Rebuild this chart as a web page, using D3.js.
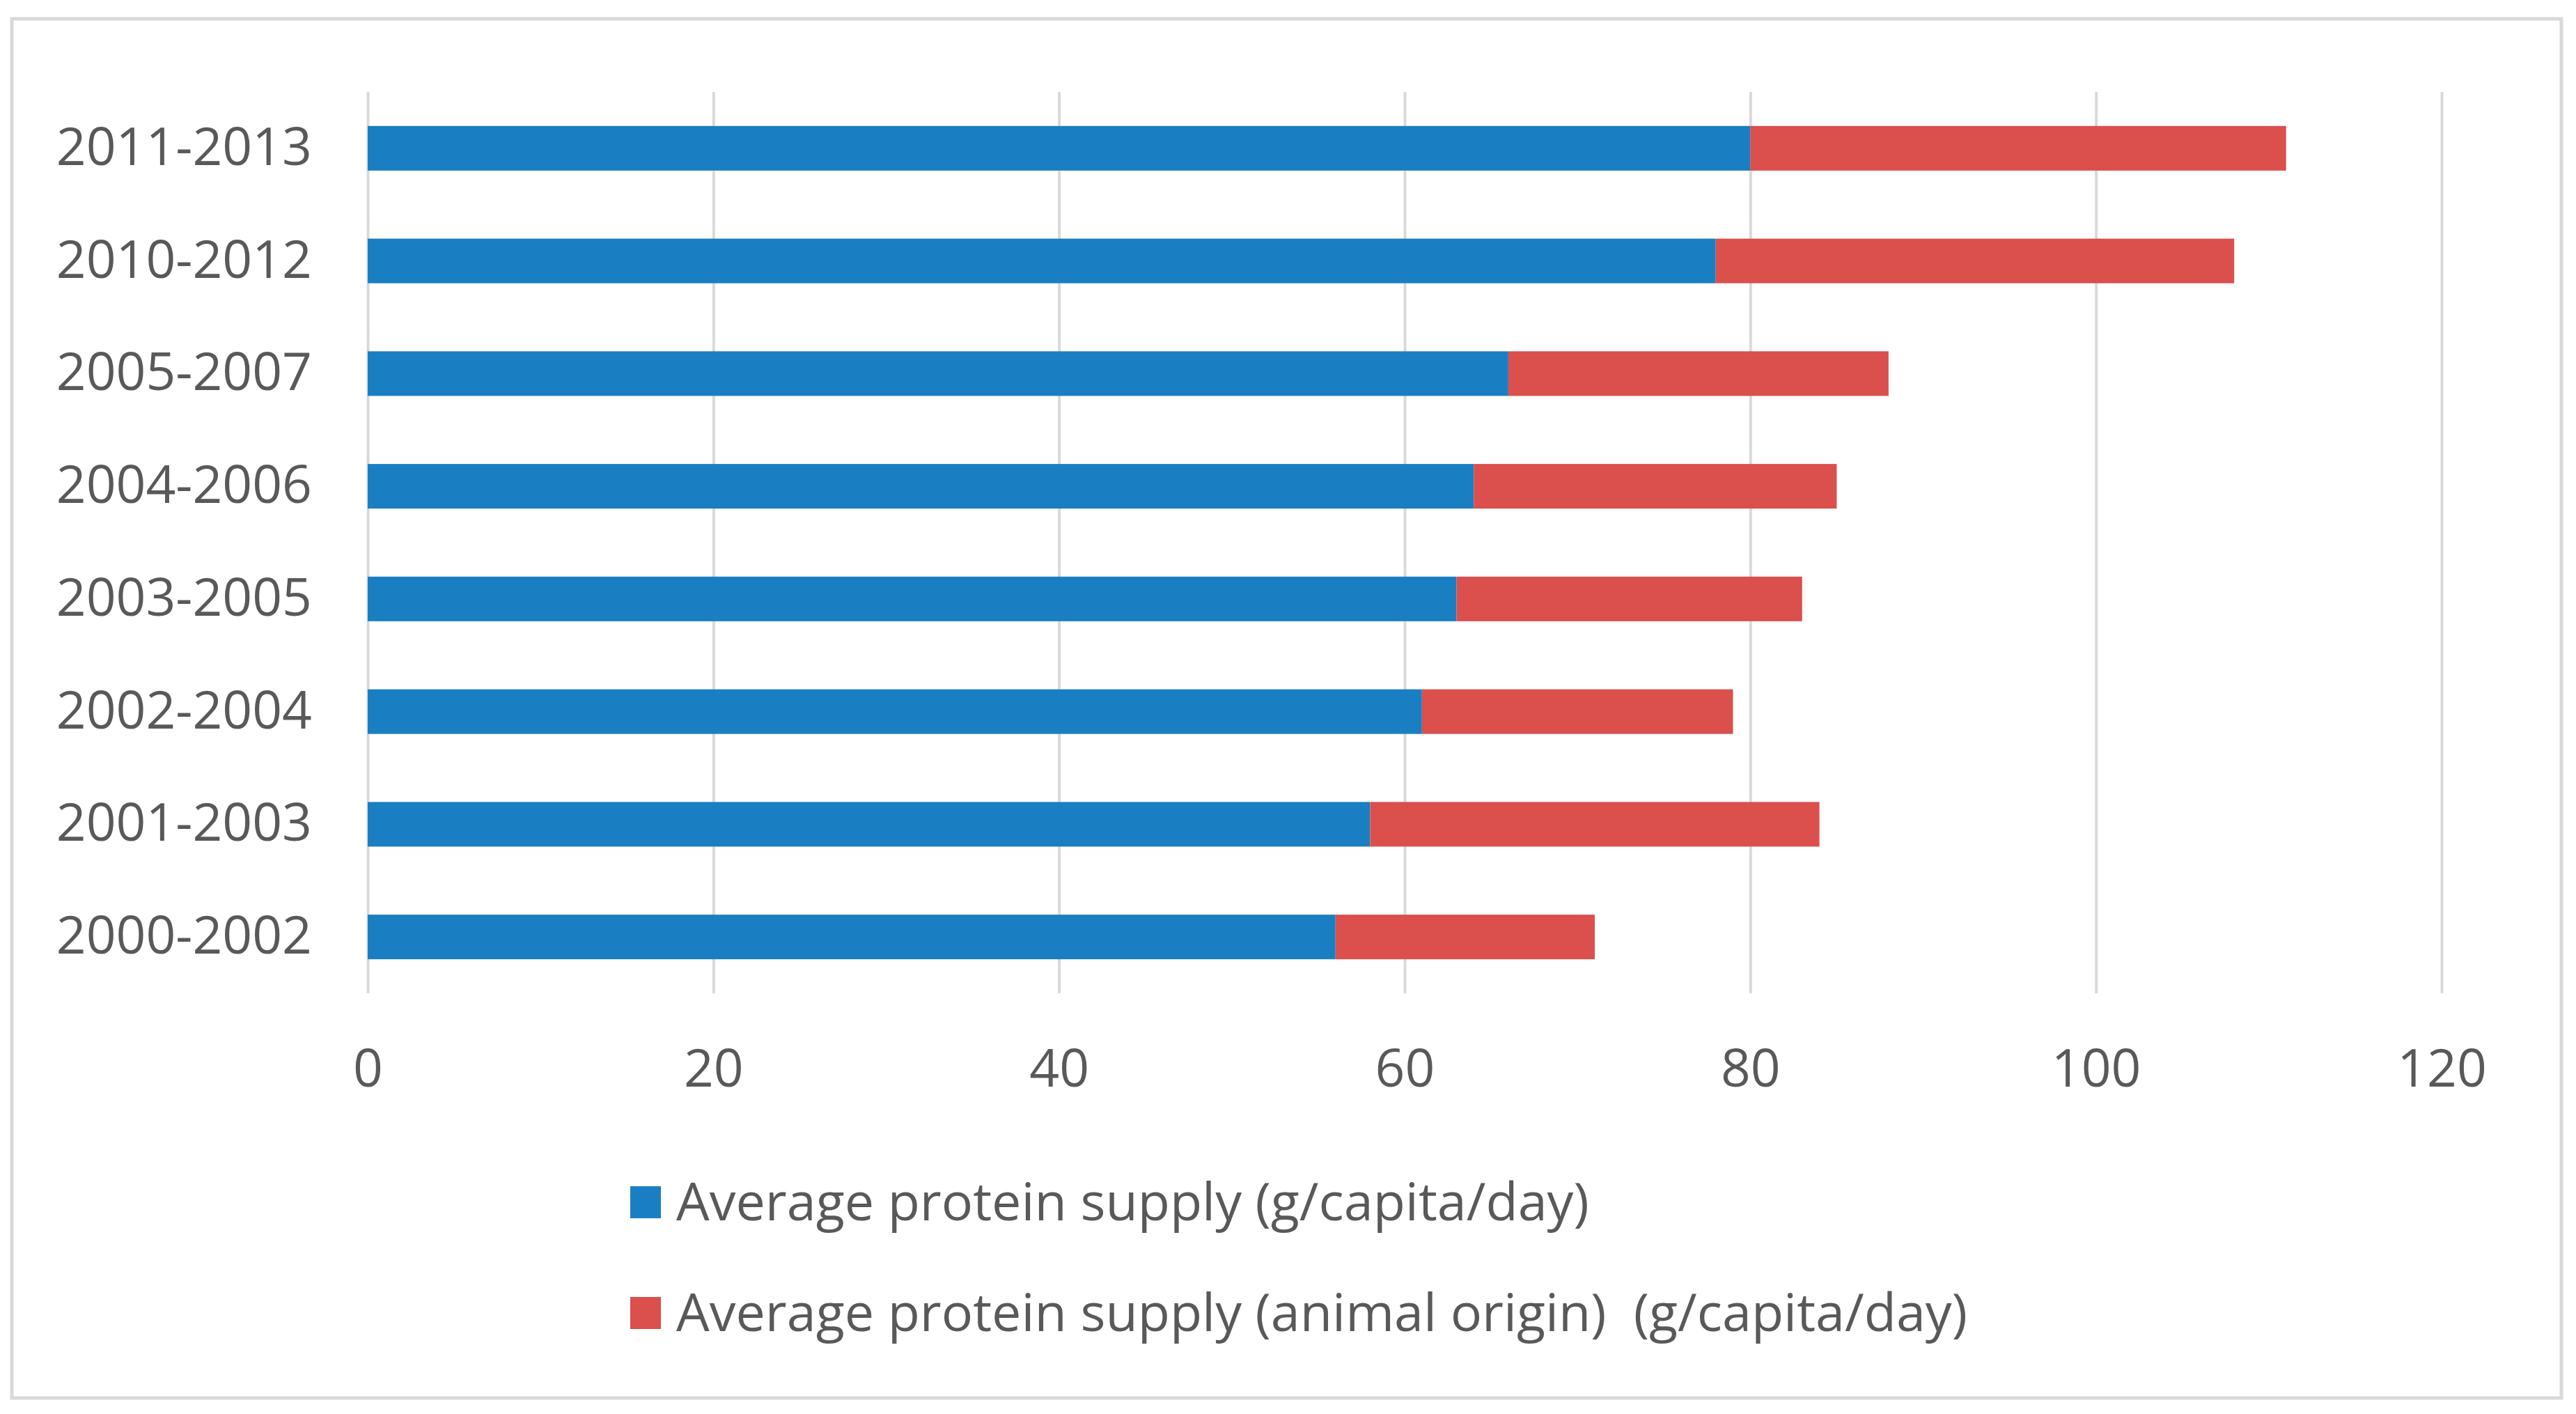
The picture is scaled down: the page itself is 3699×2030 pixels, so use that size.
<!DOCTYPE html>
<html>
<head>
<meta charset="utf-8">
<script src="https://cdn.jsdelivr.net/npm/d3@7"></script>
<style>
  html, body { margin: 0; padding: 0; background: #fff; }
  svg { display: block; }
  text { font-family: "Open Sans", "Noto Sans", sans-serif; fill: #595959; }
</style>
</head>
<body>
<div id="chart"></div>
<script>
// values, bottom row first
var periods = ["2000-2002", "2001-2003", "2002-2004", "2003-2005", "2004-2006", "2005-2007", "2010-2012", "2011-2013"];
var proteinSupply = [56, 58, 61, 63, 64, 66, 78, 80];
var animalProtein = [15, 26, 18, 20, 21, 22, 30, 31];
var xTicks = [0, 20, 40, 60, 80, 100, 120];
var seriesNames = ["Average protein supply (g/capita/day)", "Average protein supply (animal origin)  (g/capita/day)"];
var seriesColors = ["#1a7fc2", "#db4f4c"];

var W = 3699, H = 2030;
var plot = { left: 528, right: 3506, top: 132, bottom: 1426 };

var svg = d3.select("#chart").append("svg")
    .attr("width", W)
    .attr("height", H);

// outer frame
svg.append("rect")
    .attr("x", 17).attr("y", 27)
    .attr("width", 3661).attr("height", 1980)
    .attr("fill", "#fff")
    .attr("stroke", "#d9d9d9")
    .attr("stroke-width", 5);

var rows = periods.map(function(p, i) {
    return { period: p, s0: proteinSupply[i], s1: animalProtein[i] };
});
var stacked = d3.stack().keys(["s0", "s1"])(rows);

var x = d3.scaleLinear().domain([0, 120]).range([plot.left, plot.right]);
var y = d3.scaleBand()
    .domain(periods.slice().reverse())
    .range([plot.top, plot.bottom])
    .paddingInner(0.604)
    .paddingOuter(0.302);

// vertical gridlines + bottom labels
var xAxis = svg.append("g")
    .attr("transform", "translate(0," + plot.bottom + ")")
    .call(d3.axisBottom(x).tickValues(xTicks)
        .tickSize(-(plot.bottom - plot.top))
        .tickPadding(81)
        .tickFormat(d3.format("d")));
xAxis.select(".domain").remove();
xAxis.selectAll(".tick line").attr("stroke", "#d9d9d9").attr("stroke-width", 4);
xAxis.selectAll(".tick text").attr("font-size", 75).attr("fill", "#595959");

var yAxis = svg.append("g")
    .attr("transform", "translate(" + plot.left + ",0)")
    .call(d3.axisLeft(y).tickSize(0).tickPadding(80));
yAxis.select(".domain").remove();
yAxis.selectAll(".tick text").attr("font-size", 75).attr("fill", "#595959");

// bars
svg.append("g").selectAll("g")
    .data(stacked)
    .join("g")
    .attr("fill", function(d, i) { return seriesColors[i]; })
    .selectAll("rect")
    .data(function(d) { return d; })
    .join("rect")
    .attr("x", function(d) { return x(d[0]); })
    .attr("width", function(d) { return x(d[1]) - x(d[0]); })
    .attr("y", function(d) { return y(d.data.period); })
    .attr("height", y.bandwidth());

// legend
var legend = svg.append("g").attr("transform", "translate(905,1726)");
var item = legend.selectAll("g")
    .data(seriesNames)
    .join("g")
    .attr("transform", function(d, i) { return "translate(0," + (i * 159) + ")"; });
item.append("rect")
    .attr("x", 0).attr("y", -23)
    .attr("width", 44).attr("height", 46)
    .attr("fill", function(d, i) { return seriesColors[i]; });
item.append("text")
    .attr("x", 66)
    .attr("dy", "0.35em")
    .attr("font-size", 75.5)
    .style("white-space", "pre")
    .text(function(d) { return d; });
</script>
</body>
</html>
